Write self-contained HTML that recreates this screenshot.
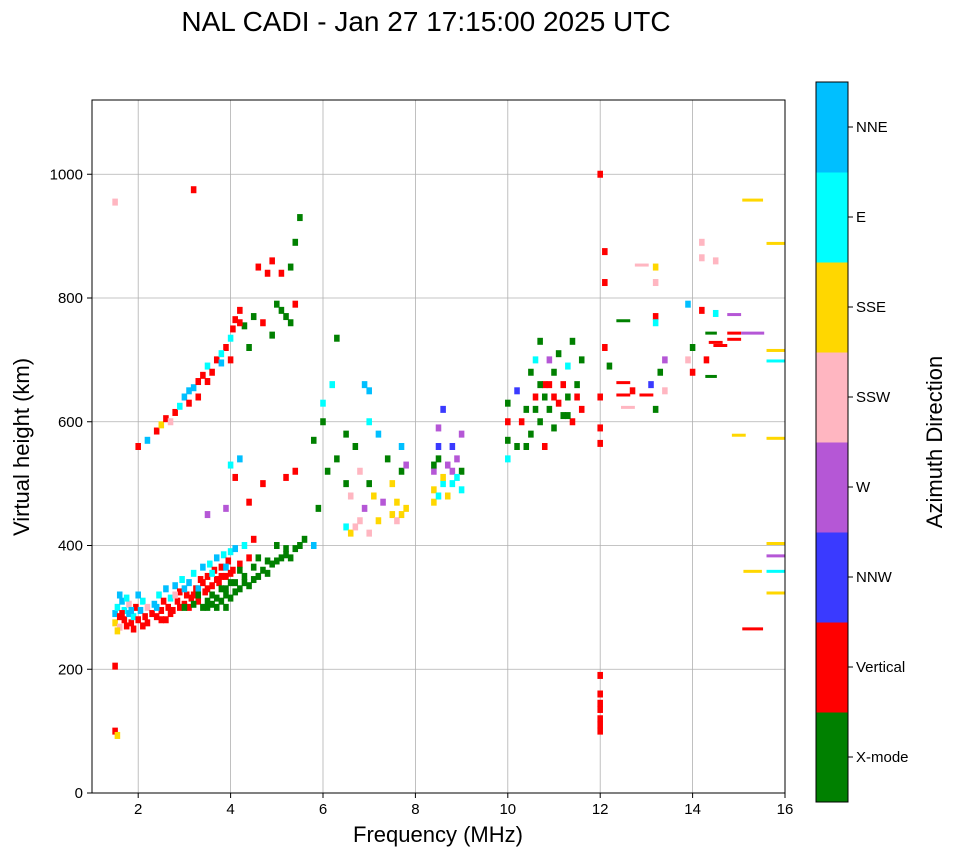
<!DOCTYPE html>
<html><head><meta charset="utf-8"><style>
body{margin:0;background:#fff;width:958px;height:857px;overflow:hidden;font-family:"Liberation Sans",sans-serif}
</style></head><body>
<svg id="chart" width="958" height="857" xmlns="http://www.w3.org/2000/svg" font-family="Liberation Sans, sans-serif">
<text x="426" y="31" font-size="28" text-anchor="middle">NAL CADI - Jan 27 17:15:00 2025 UTC</text>
<g id="grid"></g>
<g id="marks"></g>
<rect x="92" y="100" width="693" height="693" fill="none" stroke="#000" stroke-width="1"/>
<g id="ticks"></g>
<text x="438" y="842" font-size="22" text-anchor="middle">Frequency (MHz)</text>
<text transform="translate(29,447) rotate(-90)" font-size="22" text-anchor="middle">Virtual height (km)</text>
<g id="cbar"></g>
<text transform="translate(942,442) rotate(-90)" font-size="22" text-anchor="middle">Azimuth Direction</text>
</svg>
<script>
const dirLabels=["X-mode","Vertical","NNW","W","SSW","SSE","E","NNE"];
const dirColors=["#008000","#ff0000","#3a3aff","#b557d6","#ffb6c1","#ffd700","#00ffff","#00bfff"];
const xTicks=[2,4,6,8,10,12,14,16];
const yTicks=[0,200,400,600,800,1000];
// [freq MHz, height km, direction index, optional span MHz]
const lowCluster=[[1.5,290,7],[1.5,275,5],[1.55,300,6],[1.6,285,1],[1.6,268,4],[1.65,310,7],[1.7,280,1],[1.7,295,6],[1.75,270,1],[1.8,290,7],[1.8,305,4],[1.85,275,1],[1.9,285,6],[1.95,300,1],[2.0,280,1],[2.05,295,7],[2.1,310,6],[2.15,285,1],[2.2,300,4],[1.55,262,5],[1.9,265,1],[1.6,320,7],[1.75,315,6],[2.0,320,7],[2.1,270,1],[1.65,290,1],[1.85,295,7]];
const oTrace=[[2.3,290,1],[2.35,305,7],[2.4,285,1],[2.45,320,6],[2.5,295,1],[2.55,310,1],[2.6,330,7],[2.65,300,1],[2.7,315,6],[2.75,295,1],[2.8,335,7],[2.85,310,1],[2.9,325,1],[2.95,345,6],[3.0,305,1],[3.05,320,1],[3.1,340,7],[3.15,315,1],[3.2,355,6],[3.25,330,1],[3.3,310,1],[3.35,345,1],[3.4,365,7],[3.45,325,1],[3.5,350,1],[3.55,370,6],[3.6,335,1],[3.65,360,1],[3.7,380,7],[3.75,340,1],[3.8,365,1],[3.85,385,6],[3.9,350,1],[3.95,375,1],[4.0,390,6],[4.05,360,1],[4.1,395,7],[4.2,370,1],[4.3,400,6],[4.4,380,1],[4.5,410,1],[2.6,280,1],[2.2,275,1],[2.4,300,7],[2.5,280,1],[2.7,290,1],[2.9,300,1],[3.1,300,1],[3.3,330,7],[3.5,330,1],[3.7,345,1],[3.9,365,7],[2.8,320,4],[3.0,330,7],[3.2,320,1],[3.4,340,1],[3.6,355,6],[3.8,350,1],[4.0,355,1]];
const xTrace=[[3.0,300,0],[3.2,305,0],[3.4,300,0],[3.5,310,0],[3.6,305,0],[3.7,315,0],[3.8,310,0],[3.9,320,0],[4.0,315,0],[4.1,325,0],[4.2,330,0],[4.3,340,0],[4.4,335,0],[4.5,345,0],[4.6,350,0],[4.7,360,0],[4.8,355,0],[4.9,370,0],[5.0,375,0],[5.1,380,0],[5.2,385,0],[5.3,380,0],[5.4,395,0],[5.5,400,0],[5.6,410,0],[5.8,400,7],[4.0,340,0],[3.8,330,0],[4.2,360,0],[4.6,380,0],[5.0,400,0],[3.3,320,0],[3.9,300,0],[3.6,320,0],[3.7,300,0],[3.5,300,0],[3.9,330,0],[4.1,340,0],[4.3,350,0],[4.5,365,0],[4.8,375,0],[5.2,395,0]];
const upperTrace=[[2.0,560,1],[2.2,570,7],[2.4,585,1],[2.5,595,5],[2.6,605,1],[2.7,600,4],[2.8,615,1],[2.9,625,6],[3.0,640,7],[3.1,630,1],[3.2,655,7],[3.3,665,1],[3.4,675,1],[3.5,690,6],[3.6,680,1],[3.7,700,1],[3.8,695,7],[3.9,720,1],[4.0,735,6],[4.05,750,1],[4.1,765,1],[4.2,780,1],[4.3,755,0],[4.5,770,0],[4.7,760,1],[4.9,740,0],[5.0,790,0],[5.1,780,0],[5.2,770,0],[5.3,760,0],[5.4,790,1],[5.3,850,0],[5.4,890,0],[5.5,930,0],[4.6,850,1],[4.8,840,1],[4.9,860,1],[5.1,840,1],[4.2,540,7],[4.0,530,6],[4.1,510,1],[4.4,470,1],[3.9,460,3],[3.5,450,3],[4.7,500,1],[5.2,510,1],[5.4,520,1],[3.2,975,1],[1.5,955,4],[1.5,205,1],[1.5,100,1],[1.55,93,5],[3.1,650,7],[3.3,640,1],[3.5,665,1],[3.8,710,6],[4.0,700,1],[4.2,760,1],[4.4,720,0]];
const midCluster=[[6.0,630,6],[6.0,600,0],[6.3,735,0],[6.5,580,0],[6.3,540,0],[6.5,500,0],[6.6,480,4],[6.7,560,0],[6.8,520,4],[6.5,430,6],[6.6,420,5],[6.8,440,4],[6.9,460,3],[7.0,420,4],[7.0,500,0],[7.0,600,6],[7.1,480,5],[7.2,440,5],[7.3,470,3],[7.5,450,5],[7.5,500,5],[7.6,440,4],[7.7,520,0],[7.7,560,7],[7.4,540,0],[7.2,580,7],[7.0,650,7],[6.9,660,7],[7.8,530,3],[7.8,460,5],[8.4,470,5],[8.4,490,5],[8.4,520,3],[8.5,540,0],[8.5,560,2],[8.5,590,3],[8.6,500,6],[8.7,480,5],[8.8,520,3],[8.8,560,2],[8.8,500,6],[8.9,540,3],[9.0,490,6],[9.0,520,0],[9.0,580,3],[8.6,620,2],[6.2,660,6],[5.8,570,0],[6.1,520,0],[5.9,460,0],[8.4,530,0],[8.6,510,5],[8.7,530,3],[8.9,510,6],[8.5,480,6],[7.6,470,5],[7.7,450,5],[6.7,430,4]];
const fCluster=[[10.0,630,0],[10.0,600,1],[10.0,570,0],[10.0,540,6],[10.2,650,2],[10.2,560,0],[10.3,600,1],[10.4,620,0],[10.5,680,0],[10.5,580,0],[10.6,640,1],[10.6,700,6],[10.7,730,0],[10.7,600,0],[10.8,660,1],[10.8,560,1],[10.9,620,0],[11.0,680,0],[11.0,640,1],[11.0,590,0],[11.1,710,0],[11.2,660,1],[11.2,610,0],[11.3,690,6],[11.3,640,0],[11.4,600,1],[11.5,660,0],[11.6,620,1],[11.6,700,0],[10.4,560,0],[10.9,700,3],[11.4,730,0],[10.6,620,0],[10.7,660,0],[10.8,640,0],[10.9,660,1],[11.1,630,1],[11.3,610,0],[11.5,640,1]];
const highCluster=[[12.0,1000,1],[12.0,640,1],[12.0,590,1],[12.0,565,1],[12.1,875,1],[12.1,825,1],[12.1,720,1],[12.2,690,0],[12.5,660,1,0.3],[12.5,640,1,0.3],[12.6,620,4,0.3],[12.7,650,1],[12.5,760,0,0.3],[12.9,850,4,0.3],[13.2,850,5],[13.2,825,4],[13.2,770,1],[13.2,760,6],[13.0,640,1,0.3],[13.1,660,2],[13.2,620,0],[13.3,680,0],[13.4,650,4],[13.4,700,3],[13.9,790,7],[13.9,700,4],[14.0,680,1],[14.0,720,0],[14.2,890,4],[14.2,865,4],[14.2,780,1],[14.3,700,1],[14.4,740,0,0.25],[14.4,670,0,0.25],[14.5,775,6],[14.5,725,1,0.3],[14.5,860,4],[14.6,720,1,0.3],[14.9,770,3,0.3],[14.9,740,1,0.3],[14.9,730,1,0.3],[15.3,740,3,0.5],[15.3,955,5,0.45],[15.0,575,5,0.3],[15.3,355,5,0.4],[15.3,262,1,0.45],[15.8,885,5,0.4],[15.8,712,5,0.4],[15.8,695,6,0.4],[15.8,570,5,0.4],[15.8,400,5,0.4],[15.8,380,3,0.4],[15.8,355,6,0.4],[15.8,320,5,0.4]];
const ladder=[[12.0,190,1],[12.0,160,1],[12.0,145,1],[12.0,135,1],[12.0,120,1],[12.0,110,1],[12.0,100,1]];

const NS="http://www.w3.org/2000/svg";
const X0=92,X1=785,Y0=793,Y1=100,xmin=1,xmax=16,ymin=0,ymax=1120;
const xs=v=>X0+(v-xmin)/(xmax-xmin)*(X1-X0);
const ys=v=>Y0-(v-ymin)/(ymax-ymin)*(Y0-Y1);
function mk(t,a,p){const e=document.createElementNS(NS,t);for(const k in a)e.setAttribute(k,a[k]);p.appendChild(e);return e;}
const grid=document.getElementById('grid'),ticks=document.getElementById('ticks'),marks=document.getElementById('marks'),cbar=document.getElementById('cbar');
xTicks.forEach(v=>{const x=xs(v);
 const g=mk('line',{x1:x,x2:x,y1:Y1,y2:Y0,stroke:'#b0b0b0','stroke-width':0.8},grid);
 
 
 mk('line',{x1:x,x2:x,y1:Y0,y2:Y0+5,stroke:'#000'},ticks);
 const t=mk('text',{x:x,y:Y0+21,'font-size':15,'text-anchor':'middle'},ticks);t.textContent=v;
 
 });
yTicks.forEach(v=>{const y=ys(v);
 const g=mk('line',{x1:X0,x2:X1,y1:y,y2:y,stroke:'#b0b0b0','stroke-width':0.8},grid);
 
 
 mk('line',{x1:X0-5,x2:X0,y1:y,y2:y,stroke:'#000'},ticks);
 const t=mk('text',{x:X0-9,y:y+5,'font-size':15,'text-anchor':'end'},ticks);t.textContent=v;
 
 });
[lowCluster,oTrace,xTrace,upperTrace,midCluster,fCluster,highCluster,ladder].forEach(arr=>arr.forEach(p=>{
 const span=p[3]||0.12;const x=xs(p[0]-span/2),w=xs(p[0]+span/2)-x;
 const r=mk('rect',{x:x,y:ys(p[1])-3.5,width:w,height:p[3]?3:7,fill:dirColors[p[2]]},marks);
 
 }));
const CX=816,CW=32,CT=82,CB=802,seg=(CB-CT)/dirLabels.length;
dirLabels.forEach((lab,i)=>{const y=CB-(i+1)*seg;
 const r=mk('rect',{x:CX,y:y,width:CW,height:seg+0.5,fill:dirColors[i]},cbar);
 
 
 mk('line',{x1:CX+CW,x2:CX+CW+5,y1:y+seg/2,y2:y+seg/2,stroke:'#000'},cbar);
 mk('line',{x1:CX+CW-4,x2:CX+CW,y1:y,y2:y,stroke:'#000'},cbar);
 const t=mk('text',{x:CX+CW+8,y:y+seg/2+5,'font-size':15},cbar);t.textContent=lab;
 
 });
mk('rect',{x:CX,y:CT,width:CW,height:CB-CT,fill:'none',stroke:'#000'},cbar);
</script>
</body></html>
